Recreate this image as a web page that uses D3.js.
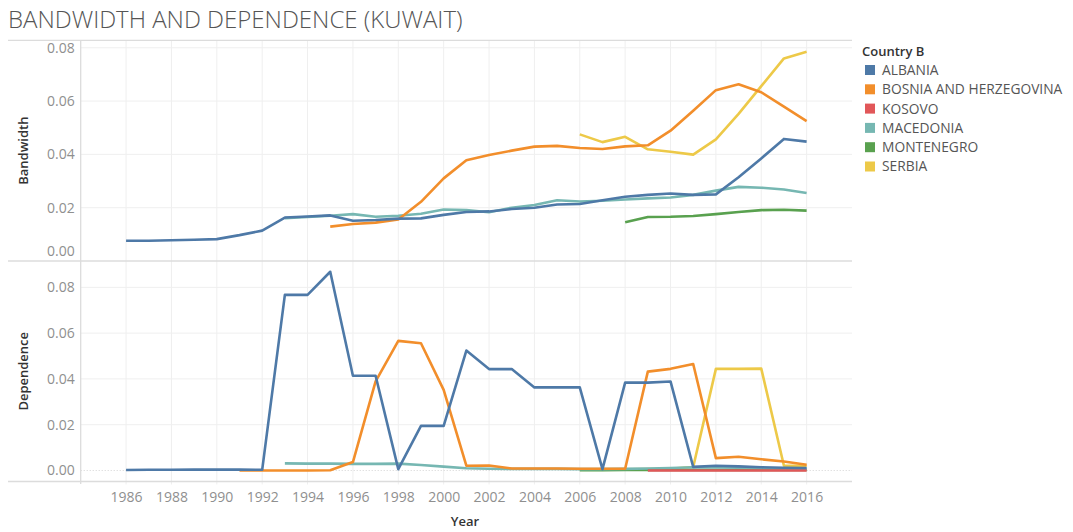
<!DOCTYPE html>
<html>
<head>
<meta charset="utf-8">
<script src="https://cdn.jsdelivr.net/npm/d3@7"></script>
<style>
  body { margin: 0; background: #fff; }
  svg { font-family: "Open Sans", sans-serif; }
</style>
</head>
<body>
<div id="root"></div>
<script>
// data (null = no value that year)
const years = [1986, 1987, 1988, 1989, 1990, 1991, 1992, 1993, 1994, 1995, 1996,
  1997, 1998, 1999, 2000, 2001, 2002, 2003, 2004, 2005, 2006, 2007, 2008, 2009,
  2010, 2011, 2012, 2013, 2014, 2015, 2016];
const countries = ["ALBANIA", "BOSNIA AND HERZEGOVINA", "KOSOVO", "MACEDONIA", "MONTENEGRO", "SERBIA"];
const colors = ["#4e79a7", "#f28e2b", "#e15759", "#76b7b2", "#59a14f", "#edc948"];
const xTicks = [1986, 1988, 1990, 1992, 1994, 1996, 1998, 2000, 2002, 2004, 2006, 2008, 2010, 2012, 2014, 2016];
const yTicks = [0, 0.02, 0.04, 0.06, 0.08];

const bandwidth = {
  "ALBANIA": [0.0076, 0.0076, 0.0078, 0.0080, 0.0082, 0.0097, 0.0114, 0.0163, 0.0167, 0.0171, 0.0151,
    0.0154, 0.0159, 0.0160, 0.0173, 0.0184, 0.0186, 0.0195, 0.0200, 0.0212, 0.0214, 0.0228, 0.0241, 0.0248,
    0.0253, 0.0248, 0.0250, 0.0314, 0.0385, 0.0458, 0.0448],
  "BOSNIA AND HERZEGOVINA": [null, null, null, null, null, null, null, null, null, 0.0129, 0.0139,
    0.0144, 0.0156, 0.0222, 0.0310, 0.0378, 0.0398, 0.0414, 0.0429, 0.0432, 0.0424, 0.0420, 0.0430, 0.0434,
    0.0489, 0.0564, 0.0641, 0.0663, 0.0633, 0.0579, 0.0525],
  "KOSOVO": [null, null, null, null, null, null, null, null, null, null, null,
    null, null, null, null, null, null, null, null, null, null, null, null, null,
    null, null, null, null, null, null, null],
  "MACEDONIA": [null, null, null, null, null, null, null, 0.0161, 0.0165, 0.0170, 0.0176,
    0.0166, 0.0170, 0.0177, 0.0193, 0.0191, 0.0183, 0.0200, 0.0210, 0.0228, 0.0223, 0.0226, 0.0231, 0.0235,
    0.0238, 0.0248, 0.0264, 0.0278, 0.0275, 0.0268, 0.0255],
  "MONTENEGRO": [null, null, null, null, null, null, null, null, null, null, null,
    null, null, null, null, null, null, null, null, null, null, null, 0.0145, 0.0165,
    0.0166, 0.0169, 0.0176, 0.0184, 0.0191, 0.0192, 0.0189],
  "SERBIA": [null, null, null, null, null, null, null, null, null, null, null,
    null, null, null, null, null, null, null, null, null, 0.0475, 0.0446, 0.0466, 0.0419,
    0.0410, 0.0399, 0.0456, 0.0552, 0.0656, 0.0760, 0.0785]
};

const dependence = {
  "ALBANIA": [0.0002, 0.0003, 0.0003, 0.0004, 0.0004, 0.0004, 0.0003, 0.0767, 0.0767, 0.0868, 0.0414,
    0.0414, 0.0006, 0.0195, 0.0195, 0.0524, 0.0443, 0.0443, 0.0363, 0.0363, 0.0363, 0.0006, 0.0384, 0.0384,
    0.0389, 0.0016, 0.0021, 0.0018, 0.0014, 0.0012, 0.0011],
  "BOSNIA AND HERZEGOVINA": [null, null, null, null, null, 0.0000, 0.0000, 0.0000, 0.0000, 0.0001, 0.0037,
    0.0389, 0.0566, 0.0556, 0.0352, 0.0021, 0.0022, 0.0009, 0.0009, 0.0009, 0.0008, 0.0008, 0.0008, 0.0432,
    0.0444, 0.0465, 0.0054, 0.0060, 0.0049, 0.0039, 0.0025],
  "KOSOVO": [null, null, null, null, null, null, null, null, null, null, null,
    null, null, null, null, null, null, null, null, null, null, null, null, 0.0000,
    0.0000, 0.0000, 0.0000, 0.0000, 0.0000, 0.0000, 0.0000],
  "MACEDONIA": [null, null, null, null, null, null, null, 0.0031, 0.0030, 0.0030, 0.0029,
    0.0029, 0.0030, 0.0024, 0.0017, 0.0010, 0.0008, 0.0007, 0.0007, 0.0007, 0.0006, 0.0006, 0.0007, 0.0009,
    0.0011, 0.0014, 0.0013, 0.0012, 0.0010, 0.0009, 0.0008],
  "MONTENEGRO": [null, null, null, null, null, null, null, null, null, null, null,
    null, null, null, null, null, null, null, null, null, 0.0001, 0.0001, 0.0002, 0.0002,
    0.0002, 0.0002, 0.0002, 0.0002, 0.0002, 0.0002, 0.0002],
  "SERBIA": [null, null, null, null, null, null, null, null, null, null, null,
    null, null, null, null, null, null, null, null, null, 0.0004, 0.0004, 0.0005, 0.0006,
    0.0008, 0.0015, 0.0444, 0.0444, 0.0445, 0.0021, 0.0021]
};

const width = 1073, height = 532;
const left = 80.7, right = 852, frameLeft = 8;

const svg = d3.select("#root").append("svg")
  .attr("width", width)
  .attr("height", height);

// title
svg.append("text")
  .attr("x", 8).attr("y", 28)
  .attr("font-size", 24).attr("font-weight", 300)
  .attr("fill", "#555")
  .text("BANDWIDTH AND DEPENDENCE (KUWAIT)");

const x = d3.scaleLinear().domain([1984, 2018]).range([left, right]);

// two stacked panes sharing the x axis
const panes = [
  { name: "Bandwidth", data: bandwidth, top: 40.3, bottom: 261, domain: [0, 0.0828] },
  { name: "Dependence", data: dependence, top: 261, bottom: 481.5, domain: [-0.0048, 0.0915] }
];

panes.forEach((p, i) => {
  const y = d3.scaleLinear().domain(p.domain).range([p.bottom, p.top]);
  const g = svg.append("g");

  // vertical grid
  g.selectAll(".vg").data(xTicks).join("line")
    .attr("x1", d => x(d)).attr("x2", d => x(d))
    .attr("y1", p.top).attr("y2", i === 1 ? p.bottom + 3 : p.bottom)
    .attr("stroke", "#efefef").attr("stroke-width", 1);

  // horizontal grid
  g.selectAll(".hg").data(yTicks.filter(d => d > 0)).join("line")
    .attr("x1", left).attr("x2", right)
    .attr("y1", d => y(d)).attr("y2", d => y(d))
    .attr("stroke", "#efefef").attr("stroke-width", 1);

  // dotted zero line in the lower pane
  if (i === 1) {
    g.append("line")
      .attr("x1", left).attr("x2", right)
      .attr("y1", y(0)).attr("y2", y(0))
      .attr("stroke", "#d4d4d4").attr("stroke-dasharray", "1,2");
  }

  // y axis labels
  const yAxis = g.append("g")
    .attr("transform", `translate(${left - 6},0)`)
    .call(d3.axisLeft(y).tickValues(yTicks).tickSize(0).tickPadding(0).tickFormat(d3.format(".2f")));
  yAxis.select(".domain").remove();
  yAxis.selectAll("text")
    .attr("font-family", "Open Sans").attr("font-size", 14).attr("fill", "#8f8f8f")
    .attr("dy", d => (i === 0 && d === 0) ? "-0.4em" : "0.32em");

  // axis title
  svg.append("text")
    .attr("transform", `translate(28,${(p.top + p.bottom) / 2}) rotate(-90)`)
    .attr("text-anchor", "middle")
    .attr("font-size", 13).attr("font-weight", 600).attr("fill", "#333")
    .text(p.name);

  // lines, drawn last legend entry first so ALBANIA sits on top
  const line = d3.line()
    .defined(d => d.v !== null)
    .x(d => x(d.year))
    .y(d => y(d.v));

  countries.slice().reverse().forEach(c => {
    const k = countries.indexOf(c);
    const series = years.map((yr, j) => ({ year: yr, v: p.data[c][j] }));
    g.append("path")
      .datum(series)
      .attr("fill", "none")
      .attr("stroke", colors[k])
      .attr("stroke-width", 2.6)
      .attr("stroke-linejoin", "round")
      .attr("d", line);
  });
});

// frame lines
[40.3, 261, 481.5].forEach(yy => {
  svg.append("line")
    .attr("x1", frameLeft).attr("x2", right)
    .attr("y1", yy).attr("y2", yy)
    .attr("stroke", "#dcdcdc").attr("stroke-width", 1.3);
});
svg.append("line")
  .attr("x1", left).attr("x2", left)
  .attr("y1", 40.3).attr("y2", 484)
  .attr("stroke", "#dcdcdc").attr("stroke-width", 1.3);

// x axis
const xAxis = svg.append("g")
  .attr("transform", "translate(0,489)")
  .call(d3.axisBottom(x).tickValues(xTicks).tickSize(0).tickFormat(d3.format("d")));
xAxis.select(".domain").remove();
xAxis.selectAll("text")
  .attr("font-family", "Open Sans").attr("font-size", 14).attr("fill", "#8f8f8f");

svg.append("text")
  .attr("x", 465).attr("y", 526)
  .attr("text-anchor", "middle")
  .attr("font-size", 13).attr("font-weight", 600).attr("fill", "#333")
  .text("Year");

// legend
const legend = svg.append("g").attr("transform", "translate(862,0)");
legend.append("text")
  .attr("x", 0).attr("y", 56)
  .attr("font-size", 13).attr("font-weight", 600).attr("fill", "#333")
  .text("Country B");

const item = legend.selectAll(".item").data(countries).join("g")
  .attr("transform", (d, k) => `translate(0,${70 + k * 19.3})`);
item.append("rect")
  .attr("x", 3).attr("y", -5).attr("width", 10).attr("height", 10)
  .attr("fill", (d, k) => colors[k]);
item.append("text")
  .attr("x", 20).attr("dy", "0.36em")
  .attr("font-size", 13.8).attr("fill", "#555")
  .text(d => d);
</script>
</body>
</html>
